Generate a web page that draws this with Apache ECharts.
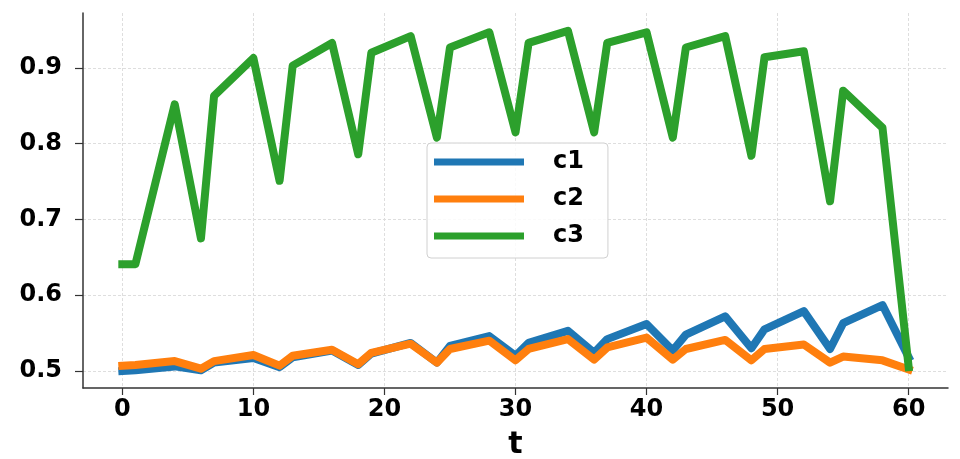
<!DOCTYPE html>
<html>
<head>
<meta charset="utf-8">
<script src="https://cdn.jsdelivr.net/npm/echarts@6/dist/echarts.min.js"></script>
<style>
html,body{margin:0;padding:0;background:#fff;}
#chart{width:960px;height:459px;}
</style>
</head>
<body>
<div id="chart"></div>
<script>
const tValues = [0,1,4,6,7,10,12,13,16,18,19,22,24,25,28,30,31,34,36,37,40,42,43,46,48,49,52,54,55,58,60];
const c1 = [0.500,0.501,0.506,0.501,0.511,0.517,0.505,0.518,0.527,0.508,0.523,0.537,0.511,0.533,0.546,0.520,0.537,0.553,0.524,0.542,0.562,0.527,0.548,0.572,0.530,0.555,0.579,0.529,0.563,0.587,0.518];
const c2 = [0.507,0.508,0.513,0.503,0.513,0.521,0.507,0.520,0.528,0.509,0.524,0.536,0.511,0.529,0.540,0.514,0.529,0.542,0.515,0.531,0.544,0.515,0.529,0.541,0.514,0.529,0.535,0.511,0.519,0.514,0.502];
const c3 = [0.641,0.641,0.852,0.675,0.863,0.913,0.751,0.903,0.933,0.786,0.920,0.942,0.808,0.927,0.947,0.815,0.933,0.949,0.815,0.933,0.947,0.808,0.927,0.942,0.784,0.914,0.922,0.724,0.870,0.821,0.505];
const xTicks = [0,10,20,30,40,50,60];
const yTicks = [0.5,0.6,0.7,0.8,0.9];
const seriesNames = ['c1','c2','c3'];

const colors = ['#1f77b4','#ff7f0e','#2ca02c'];
const font = 'DejaVu Sans';
const zip = (ys) => tValues.map((t, i) => [t, ys[i]]);

const chart = echarts.init(document.getElementById('chart'), null, {renderer: 'canvas'});
chart.setOption({
  animation: false,
  backgroundColor: '#fff',
  color: colors,
  grid: {left: 83, right: 12, top: 13, bottom: 71, containLabel: false, outerBoundsMode: 'none'},
  legend: {
    data: seriesNames,
    orient: 'vertical',
    left: 427,
    top: 143,
    icon: 'rect',
    itemWidth: 90,
    itemHeight: 7,
    itemGap: 9,
    padding: [5, 24, 8, 7],
    backgroundColor: 'rgba(255,255,255,0.85)',
    borderColor: '#d0d0d0',
    borderWidth: 1,
    borderRadius: 4,
    textStyle: {fontFamily: font, fontWeight: 'bold', fontSize: 24, color: '#000', lineHeight: 28, padding: [0, 0, 0, 24]}
  },
  xAxis: {
    type: 'value',
    min: -3,
    max: 63,
    name: 't',
    nameLocation: 'middle',
    nameGap: 42,
    nameTextStyle: {fontFamily: font, fontWeight: 'bold', fontSize: 30, color: '#000'},
    axisLine: {show: true, onZero: false, lineStyle: {color: '#333', width: 1.5}},
    axisTick: {show: true, length: 7, customValues: xTicks, lineStyle: {color: '#333', width: 1.2}},
    axisLabel: {customValues: xTicks, margin: 10, fontFamily: font, fontWeight: 'bold', fontSize: 24, color: '#000'},
    splitLine: {show: true, lineStyle: {color: '#dedede', width: 1, type: [3, 2]}}
  },
  yAxis: {
    type: 'value',
    min: 0.4775,
    max: 0.9725,
    axisLine: {show: true, onZero: false, lineStyle: {color: '#333', width: 1.5}},
    axisTick: {show: true, length: 8, customValues: yTicks, lineStyle: {color: '#333', width: 1.2}},
    axisLabel: {customValues: yTicks, margin: 21, fontFamily: font, fontWeight: 'bold', fontSize: 24, color: '#000', formatter: (v) => v.toFixed(1)},
    splitLine: {show: true, lineStyle: {color: '#dedede', width: 1, type: [3, 2]}}
  },
  series: [c1, c2, c3].map((ys, i) => ({
    name: seriesNames[i],
    type: 'line',
    data: zip(ys),
    showSymbol: false,
    symbol: 'none',
    lineStyle: {width: 8, color: colors[i], join: 'round', cap: 'square'},
    emphasis: {disabled: true}
  }))
});
</script>
</body>
</html>
